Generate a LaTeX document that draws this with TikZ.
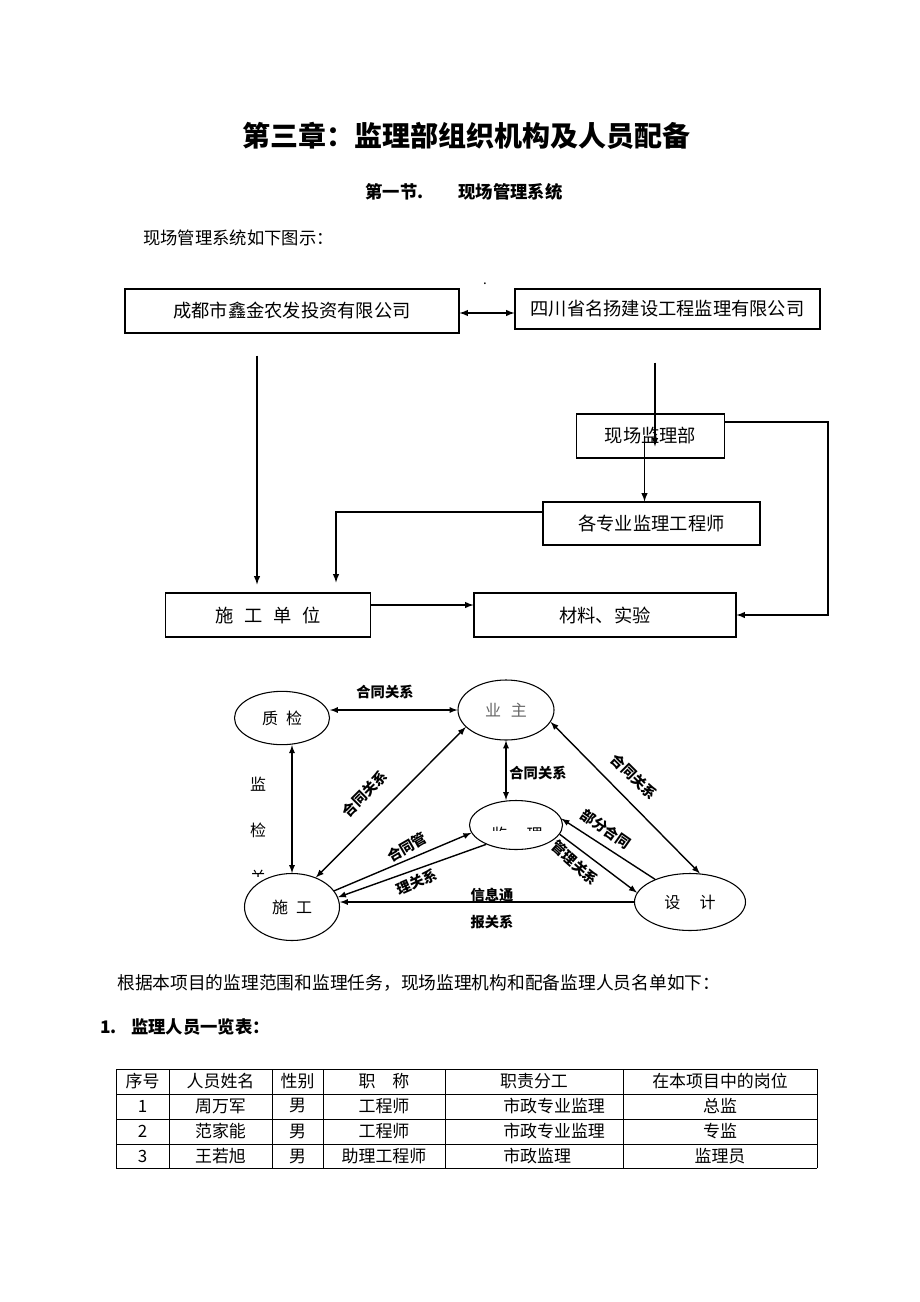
\documentclass[tikz,border=0pt]{standalone}
\usepackage{fontspec}
\setmainfont{Noto Sans CJK SC}
\usetikzlibrary{arrows, shapes.geometric, calc, positioning}
\tikzset{
    orgBox/.style={rectangle, draw, line width=0.8pt, inner sep=0pt, font=\fontsize{13.7}{16}\selectfont},
    relNode/.style={ellipse, draw, line width=0.8pt, inner sep=0pt, font=\fontsize{12}{14}\selectfont},
    orgEdge/.style={->, >=latex, line width=1.15pt},
    orgBoth/.style={<->, >=latex, line width=1.15pt},
    relEdge/.style={->, >=latex, line width=1.05pt},
    relBoth/.style={<->, >=latex, line width=1.05pt},
    relText/.style={inner sep=0pt, font=\bfseries\fontsize{10.7}{12}\selectfont},
    bodyText/.style={anchor=west, inner sep=0pt, font=\fontsize{13}{15}\selectfont},
    cellText/.style={inner sep=0pt, font=\fontsize{12.7}{14}\selectfont},
    gridLine/.style={line width=0.6pt},
}
\newcommand{\relLabel}[4]{
    \node[relText, rotate=#3] (#1) at (#2) {#4};
}

\begin{document}
\begin{tikzpicture}[x=0.75pt, y=-0.75pt]
    \useasboundingbox (0,0) rectangle (920,1302);

    % headings
    \node[inner sep=0pt, font=\bfseries\fontsize{21}{24}\selectfont] (title) at (466,136) {第三章：监理部组织机构及人员配备};
    \node[inner sep=0pt, font=\bfseries\fontsize{13}{15}\selectfont] (sec) at (464,192) {第一节.\hspace{2em}现场管理系统};
    \node[bodyText] (intro) at (143,238) {现场管理系统如下图示：};
    \node[inner sep=0pt, font=\fontsize{10}{12}\selectfont] (dot) at (485,284) {.};

    % upper chart
    \node[orgBox, minimum width=250.5pt, minimum height=33pt] (owner) at (292,311) {成都市鑫金农发投资有限公司};
    \node[orgBox, minimum width=228.75pt, minimum height=30pt] (super) at (667.5,309) {四川省名扬建设工程监理有限公司};
    \node[orgBox, minimum width=111pt, minimum height=33pt] (site) at (650.5,436) {现场监理部};
    \node[orgBox, minimum width=162.75pt, minimum height=32.25pt] (eng) at (651.5,523.5) {各专业监理工程师};
    \node[orgBox, minimum width=153.75pt, minimum height=33pt] (unit) at (268,615) {施\hspace{0.6em}工\hspace{0.6em}单\hspace{0.6em}位};
    \node[orgBox, minimum width=196.5pt, minimum height=33pt] (lab) at (605,615) {材料、实验};

    \draw[orgBoth] ([yshift=-1.5pt]owner.east) -- ([yshift=-1.5pt]owner.east -| super.west);
    \draw[orgEdge] ([xshift=-26.25pt, yshift=-16.5pt]owner.south) -- ([xshift=-8.25pt, yshift=6pt]unit.north);
    \draw[orgEdge] ([xshift=-9.4pt, yshift=-24.75pt]super.south) -- ([xshift=-9.4pt, yshift=-24.75pt]super.south |- site.north);
    \draw[orgEdge] ([xshift=-4.5pt]site.center) -- ([xshift=-4.5pt]site.center |- eng.north);
    \draw[orgEdge] ([yshift=8.6pt]eng.west) -| ([xshift=51pt, yshift=7.5pt]unit.north);
    \draw[orgEdge] ([yshift=10.5pt]site.east) -- ++(103,0) |- (lab.east);
    \draw[orgEdge] ([yshift=7.5pt]unit.east) -- ([yshift=7.5pt]unit.east -| lab.west);

    % relation chart
    \node[relNode, minimum width=71.25pt, minimum height=40pt] (qc) at (282,718) {质\hspace{0.5em}检};
    \node[relNode, minimum width=72pt, minimum height=45pt, text=black!60] (own) at (506,710) {业\hspace{0.6em}主};
    \node[relNode, minimum width=69.75pt, minimum height=36.75pt] (sup) at (516,825) {};
    \node[relNode, minimum width=71.25pt, minimum height=50.25pt] (con) at (292,907) {施\hspace{0.5em}工};
    \node[relNode, minimum width=83.25pt, minimum height=42.75pt] (des) at (690,902) {设\hspace{1.2em}计};
    \begin{scope}
        \clip (470,800) rectangle (563,830);
        \node[inner sep=0pt, font=\fontsize{12}{14}\selectfont] (supText) at (517,834) {监\hspace{1.2em}理};
    \end{scope}

    \draw[relBoth] (qc.east |- own.west) -- (own.west);
    \draw[relBoth] (con.north |- qc.south) -- (con.north);
    \draw[relBoth] (con.51) -- (own.203);
    \draw[relBoth] (own.south) -- (own.south |- sup.north);
    \draw[relBoth] (own.-15) -- (des.71);
    \draw[relEdge] (con.21) -- (sup.190);
    \draw[relEdge] (sup.213) -- (con.12);
    \draw[relEdge] (sup.-12) -- (des.170);
    \draw[relEdge] (des.147) -- (sup.8);
    \draw[relEdge] (des.west) -- (des.west -| con.east);

    \relLabel{lQcOwn}{385,692}{0}{合同关系}
    \relLabel{lConOwn}{365,794}{45}{合同关系}
    \relLabel{lOwnSup}{538,773}{0}{合同关系}
    \relLabel{lOwnDes}{634,777}{-45}{合同关系}
    \relLabel{lConSup}{407,847}{30}{合同管}
    \relLabel{lSupCon}{417,882}{24}{理关系}
    \relLabel{lSupDes}{575,863}{-42}{管理关系}
    \relLabel{lDesSup}{606,829}{-35}{部分合同}
    \relLabel{lDesConA}{492,895}{0}{信息通}
    \relLabel{lDesConB}{492,922}{0}{报关系}

    \node[inner sep=0pt, font=\fontsize{12}{14}\selectfont] (vA) at (258,784) {监};
    \node[inner sep=0pt, font=\fontsize{12}{14}\selectfont] (vB) at (258,830) {检};
    \begin{scope}
        \clip (240,860) rectangle (280,876);
        \node[inner sep=0pt, font=\fontsize{12}{14}\selectfont] (vC) at (258,877) {关};
    \end{scope}

    % text and table
    \node[bodyText, font=\fontsize{13.3}{15}\selectfont] (basis) at (117,983) {根据本项目的监理范围和监理任务，现场监理机构和配备监理人员名单如下：};
    \node[bodyText, font=\bfseries\fontsize{13}{15}\selectfont] (listNo) at (100,1027) {1.};
    \node[bodyText, font=\bfseries\fontsize{13}{15}\selectfont] (listHead) at (131,1027) {监理人员一览表：};

    \foreach \y in {1069,1094,1119,1144,1168}
        \draw[gridLine] (116,\y) -- (817,\y);
    \foreach \x in {116,169,272,323,445,623,817}
        \draw[gridLine] (\x,1069) -- (\x,1168);

    \node[cellText] (h1) at (142.5,1081) {序号};
    \node[cellText] (h2) at (220.5,1081) {人员姓名};
    \node[cellText] (h3) at (297.5,1081) {性别};
    \node[cellText] (h4) at (384,1081) {职\quad 称};
    \node[cellText] (h5) at (534,1081) {职责分工};
    \node[cellText] (h6) at (720,1081) {在本项目中的岗位};
    \foreach \y/\n/\name/\rank/\duty/\post in {
        1106/1/周万军/工程师/市政专业监理/总监,
        1131/2/范家能/工程师/市政专业监理/专监,
        1156/3/王若旭/助理工程师/市政监理/监理员} {
        \node[cellText] (n\n) at (142.5,\y) {\n};
        \node[cellText] (nm\n) at (220.5,\y) {\name};
        \node[cellText] (sx\n) at (297.5,\y) {男};
        \node[cellText] (rk\n) at (384,\y) {\rank};
        \node[cellText, anchor=west] (dt\n) at (503,\y) {\duty};
        \node[cellText] (ps\n) at (720,\y) {\post};
    }
\end{tikzpicture}
\end{document}
